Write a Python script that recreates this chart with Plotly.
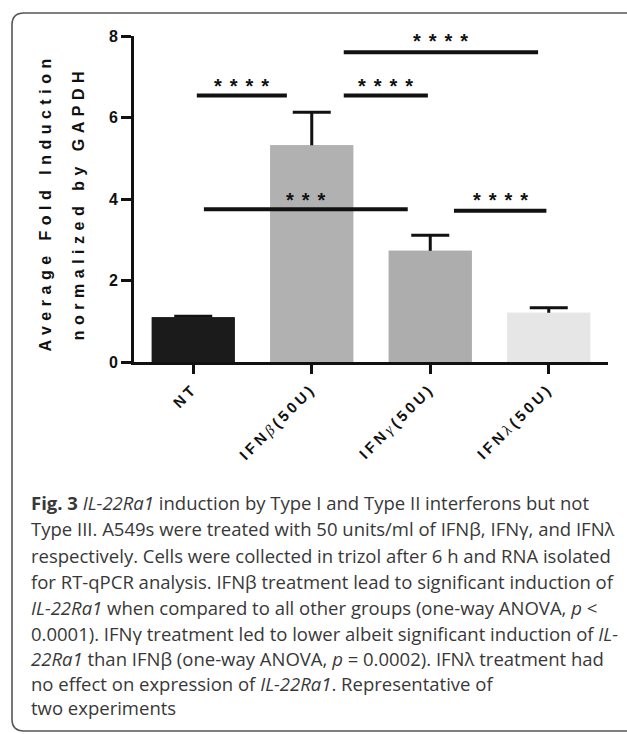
import plotly.graph_objects as go

# ---------------- data ----------------
categories = ["NT", "IFNβ(50U)", "IFNγ(50U)", "IFNλ(50U)"]
greek = ["", "β", "γ", "λ"]
mean_values = [1.10, 5.32, 2.73, 1.21]
error_upper = [0.02, 0.81, 0.38, 0.12]
bar_colors = ["#1b1b1b", "#b1b1b1", "#adadad", "#e6e6e6"]

# significance brackets
sig_x0 = [0.03, 1.27, 1.27, 0.09, 2.20]
sig_x1 = [0.79, 1.98, 2.91, 1.81, 2.98]
sig_y = [6.54, 6.54, 7.60, 3.75, 3.71]
sig_label = ["****", "****", "****", "***", "****"]
sig_label_y = [6.78, 6.78, 7.88, 3.97, 3.97]

y_ticks = [0, 2, 4, 6, 8]

caption_lines = [
    "<b>Fig. 3</b> <i>IL-22Ra1</i> induction by Type I and Type II interferons but not",
    "Type III. A549s were treated with 50 units/ml of IFNβ, IFNγ, and IFNλ",
    "respectively. Cells were collected in trizol after 6 h and RNA isolated",
    "for RT-qPCR analysis. IFNβ treatment lead to significant induction of",
    "<i>IL-22Ra1</i> when compared to all other groups (one-way ANOVA, <i>p</i> &lt;",
    "0.0001). IFNγ treatment led to lower albeit significant induction of <i>IL-</i>",
    "<i>22Ra1</i> than IFNβ (one-way ANOVA, <i>p</i> = 0.0002). IFNλ treatment had",
    "no effect on expression of <i>IL-22Ra1</i>. Representative of",
    "two experiments",
]


def tick_text(cat, g):
    if not g:
        return f"<b>{cat}</b>"
    head, tail = cat.split(g)
    return (f"<b>{head}</b><span style=\"font-family:'Liberation Serif';"
            f"font-style:italic\">{g}</span><b>{tail}</b>")


tick_labels = [tick_text(c, g) for c, g in zip(categories, greek)]

# ---------------- layout geometry ----------------
W, H = 627, 734
L, R, T, B = 134, 19, 36, 372
PW, PH = W - L - R, H - T - B


def px(x):
    return (x - L) / PW


def py(y):
    return (H - B - y) / PH


xpos = list(range(len(categories)))

fig = go.Figure()
fig.add_trace(go.Bar(
    x=xpos, y=mean_values, width=0.70,
    marker=dict(color=bar_colors, line=dict(width=0)),
    error_y=dict(type="data", symmetric=False, array=error_upper,
                 arrayminus=[0.12] * len(mean_values),
                 color="#111111", thickness=3, width=19),
    showlegend=False, hoverinfo="skip",
))
fig.add_trace(go.Bar(
    x=xpos, y=mean_values, width=0.70,
    marker=dict(color=bar_colors, line=dict(width=0)),
    showlegend=False,
))

shapes = []
annotations = []
for x0, x1, yy, lab, ly in zip(sig_x0, sig_x1, sig_y, sig_label, sig_label_y):
    shapes.append(dict(type="line", xref="x", yref="y", x0=x0, x1=x1, y0=yy, y1=yy,
                       line=dict(color="#111111", width=4)))
    annotations.append(dict(xref="x", yref="y", x=(x0 + x1) / 2, y=ly, xshift=4,
                            text=f"<b>{lab}</b>",
                            showarrow=False, font=dict(size=20, color="#111111",
                                                        family="Liberation Sans"),
                            xanchor="center", yanchor="middle"))

for xx, txt in [(45, "Average Fold Induction"), (78, "normalized by GAPDH")]:
    annotations.append(dict(xref="paper", yref="paper", x=px(xx), y=py(200),
                            text=f"<b>{txt}</b>", yshift=-3,
                            textangle=-90, showarrow=False, xanchor="center",
                            yanchor="middle",
                            font=dict(size=16, color="#111111", family="Liberation Sans")))

cap_y = [502, 528, 555, 581, 607, 633, 658, 683, 707]
for yy, line in zip(cap_y, caption_lines):
    annotations.append(dict(xref="paper", yref="paper", x=px(29), y=py(yy), text=line,
                            showarrow=False, xanchor="left", yanchor="middle",
                            font=dict(size=18.5, color="#383838", family="Open Sans")))

fl, fr, ft, fb, rr = 12, 700, 13, 731, 12
path = (f"M {px(fl)},{py(ft + rr)} Q {px(fl)},{py(ft)} {px(fl + rr)},{py(ft)} "
        f"L {px(fr - rr)},{py(ft)} Q {px(fr)},{py(ft)} {px(fr)},{py(ft + rr)} "
        f"L {px(fr)},{py(fb - rr)} Q {px(fr)},{py(fb)} {px(fr - rr)},{py(fb)} "
        f"L {px(fl + rr)},{py(fb)} Q {px(fl)},{py(fb)} {px(fl)},{py(fb - rr)} Z")
shapes.append(dict(type="path", xref="paper", yref="paper", path=path,
                   line=dict(color="#555555", width=1.6), layer="below"))

fig.update_layout(
    width=W, height=H,
    margin=dict(l=L, r=R, t=T, b=B, pad=0),
    paper_bgcolor="white", plot_bgcolor="white",
    barmode="overlay",
    shapes=shapes, annotations=annotations,
    font=dict(family="Liberation Sans", color="#111111"),
    xaxis=dict(
        range=[-0.5, 3.5], tickmode="array", tickvals=xpos, ticktext=tick_labels,
        tickangle=-45, showline=True, linecolor="#111111", linewidth=3,
        ticks="outside", ticklen=9, tickwidth=3, tickcolor="#111111",
        showgrid=False, zeroline=False,
        tickfont=dict(size=15, family="Liberation Sans", color="#111111"),
    ),
    yaxis=dict(
        range=[0, 8], tickmode="array", tickvals=y_ticks,
        ticktext=[f"<b>{v}</b>" for v in y_ticks],
        showline=True, linecolor="#111111", linewidth=3,
        ticks="outside", ticklen=10, tickwidth=3, tickcolor="#111111",
        showgrid=False, zeroline=False,
        tickfont=dict(size=16, family="Liberation Sans", color="#111111"),
    ),
)

post = """
document.body.style.margin = '0';
document.body.style.overflow = 'hidden';
var gd = document.getElementById('{plot_id}');
function spaceText(){
  gd.querySelectorAll('.xtick text').forEach(function(e){ e.setAttribute('letter-spacing','3.5'); });
  gd.querySelectorAll('.annotation-text').forEach(function(e){
    var t = e.textContent;
    if (/^\\*+$/.test(t)) e.setAttribute('letter-spacing','8');
    if (t === 'Average Fold Induction' || t === 'normalized by GAPDH') e.setAttribute('letter-spacing','5.5');
  });
}
spaceText();
gd.on('plotly_afterplot', spaceText);
"""

fig.write_html("out.html", post_script=post, config={"displayModeBar": False})
